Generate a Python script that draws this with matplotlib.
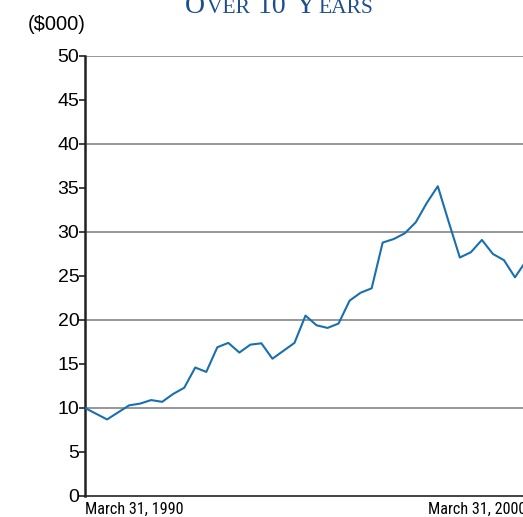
import matplotlib.pyplot as plt
from matplotlib import font_manager
from matplotlib.offsetbox import TextArea, HPacker, AnchoredOffsetbox

# quarterly values, March 1990 .. March 2000 ($000)
quarters = list(range(41))
values = [10.0, 9.35, 8.7, 9.5, 10.3, 10.5, 10.9, 10.7, 11.6, 12.3,
          14.6, 14.1, 16.9, 17.4, 16.3, 17.2, 17.35, 15.6, 16.5, 17.4,
          20.5, 19.4, 19.1, 19.6, 22.2, 23.1, 23.6, 28.8, 29.2, 29.85,
          31.1, 33.3, 35.2, 31.1, 27.1, 27.7, 29.1, 27.5, 26.8, 24.85,
          26.7]
date_labels = ["March 31, 1990", "March 31, 2000"]
yticks = [0, 5, 10, 15, 20, 25, 30, 35, 40, 45, 50]

# look for a narrow sans font for the date labels
narrow = None
names = sorted({f.name for f in font_manager.fontManager.ttflist})
for cand in ["Liberation Sans Narrow", "Roboto Condensed", "Arial Narrow",
             "Open Sans Condensed", "DejaVu Sans Condensed", "Noto Sans Condensed"]:
    if cand in names:
        narrow = cand
        break
if narrow is None:
    for n in names:
        if "Condensed" in n or "Narrow" in n:
            narrow = n
            break
if narrow is None:
    date_font = dict(family=["Liberation Sans", "DejaVu Sans"], fontsize=10.5)
else:
    date_font = dict(family=[narrow, "DejaVu Sans"], fontsize=11.6)

fig = plt.figure(figsize=(5.23, 5.17), dpi=100)
ax = fig.add_axes([85 / 523, 21 / 517, 441 / 523, 440 / 517])

# grid lines every 10
for g in [10, 20, 30, 40, 50]:
    ax.axhline(g, color="#8f8f8f", lw=1.3, zorder=1)

ax.plot(quarters, values, color="#1a6fae", lw=1.5, zorder=3)

ax.set_xlim(0, 40)
ax.set_ylim(0, 50)
ax.set_yticks(yticks)
ax.set_yticklabels([str(t) for t in yticks], fontsize=14,
                   family=["Liberation Sans", "DejaVu Sans"])
ax.tick_params(axis="y", length=4, width=1.2, pad=0, color="#222222")

ax.set_xticks([0, 40])
ax.set_xticklabels(date_labels, **date_font)
ax.tick_params(axis="x", length=0, pad=4)
xl = ax.get_xticklabels()
xl[0].set_ha("left")
xl[1].set_ha("right")

for s in ["top", "right"]:
    ax.spines[s].set_visible(False)
ax.spines["left"].set_linewidth(1.8)
ax.spines["left"].set_color("#222222")
ax.spines["bottom"].set_linewidth(1.2)
ax.spines["bottom"].set_color("#222222")

fig.text(28 / 523, 1 - 30 / 517, "($000)", fontsize=14.5,
         family=["Liberation Sans", "DejaVu Sans"])

# small caps title, cut off at the top
tc = "#1d4f8f"
big = dict(color=tc, fontsize=20, family="Liberation Serif")
small = dict(color=tc, fontsize=15.5, family="Liberation Serif")
parts = [TextArea("O", textprops=big), TextArea("VER ", textprops=small),
         TextArea("10 ", textprops=big), TextArea("Y", textprops=big),
         TextArea("EARS", textprops=small)]
box = HPacker(children=parts, align="baseline", pad=0, sep=2)
anchored = AnchoredOffsetbox(loc="lower center", child=box, frameon=False,
                             bbox_to_anchor=(279 / 523, 1 - 19 / 517),
                             bbox_transform=fig.transFigure, pad=0, borderpad=0)
fig.add_artist(anchored)

fig.savefig("out.png", dpi=100)
